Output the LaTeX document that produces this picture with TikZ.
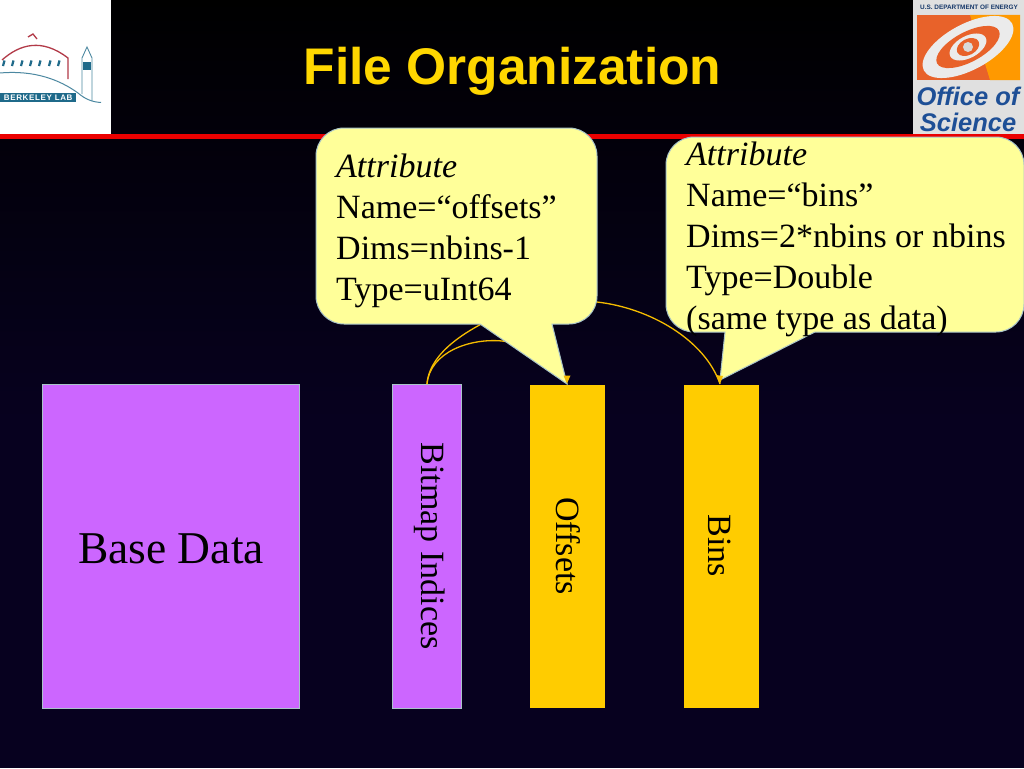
\documentclass[tikz,border=0pt]{standalone}
\usepackage{fontspec}
\setmainfont{Liberation Serif}
\newfontfamily\arialfont{Liberation Sans}
\definecolor{bgtop}{HTML}{000000}
\definecolor{bgbot}{HTML}{07011F}
\definecolor{violet}{HTML}{CC66FF}
\definecolor{gold}{HTML}{FFCC00}
\definecolor{cream}{HTML}{FFFF99}
\definecolor{edgeblue}{HTML}{A9C4C8}
\definecolor{linkgold}{HTML}{F5BC00}
\definecolor{labteal}{HTML}{1F6A8A}
\definecolor{labred}{HTML}{B23A48}
\definecolor{doeblue}{HTML}{1E4F96}
\definecolor{doeorange}{HTML}{E8622A}
\tikzset{
  databox/.style={draw=none,minimum height=324pt,inner sep=0pt,anchor=north west},
  balloon/.style={fill=cream,draw=edgeblue,line width=1pt},
  balloontext/.style={anchor=north west,inner sep=0pt,align=left,text=black,font=\fontsize{34}{41}\selectfont},
  boxlabel/.style={rotate=-90,inner sep=0pt,text=black},
  link/.style={draw=linkgold,line width=1.3pt},
}
\begin{document}
\begin{tikzpicture}[x=1pt,y=-1pt]
\useasboundingbox (0,0) rectangle (1024,768);
\fill[bgbot] (0,0) rectangle (1024,768);
\shade[top color=bgtop,bottom color=bgbot] (0,0) rectangle (1024,420);
% logos
\fill[white] (0,0) rectangle (111,135);
\fill[black!12] (913,0) rectangle (1024,135);
\fill[red!92!black] (0,134) rectangle (1024,138.5);
% Berkeley Lab logo
\draw[labred,line width=1.3pt] (2,60) .. controls (20,44) and (42,38) .. (68,58) -- (68,79);
\draw[labred,line width=1.3pt] (28,37) -- (33,34) -- (37,39);
\foreach \lx in {3,12,21,30,39,49,58}
  \draw[labteal,line width=2.2pt] (\lx,66) -- (\lx+1.5,60.5);
\draw[labteal!80,line width=1pt] (0,73) .. controls (35,70) and (60,80) .. (78,93) .. controls (85,99) and (92,102) .. (101,102.5);
\draw[labteal!80,line width=.9pt] (82,94) -- (82,58) -- (87,47) -- (92,58) -- (92,101);
\fill[labteal] (83,62) rectangle (91,70);
\node[fill=labteal,text=white,inner sep=0pt,minimum width=76pt,minimum height=9pt,anchor=north west,font=\arialfont\bfseries\fontsize{8}{8}\selectfont] (lab) at (0,93) {\addfontfeature{LetterSpace=8}BERKELEY LAB};
% Office of Science logo
\node[inner sep=0pt,text=doeblue!70!black,font=\arialfont\bfseries\fontsize{6.4}{7}\selectfont] (doe) at (969,7) {U.S. DEPARTMENT OF ENERGY};
\fill[doeorange] (917,15) rectangle (1020,80);
\fill[orange!80!yellow] (970,15) -- (1020,15) -- (1020,80) -- (990,80) -- cycle;
\fill[black!8,rotate around={28:(968,47)}] (968,47) ellipse (50 and 23);
\fill[doeorange,rotate around={28:(968,47)}] (968,47) ellipse (35 and 15);
\fill[black!8,rotate around={28:(968,47)}] (968,47) ellipse (20 and 11);
\fill[doeorange,rotate around={28:(968,47)}] (968,47) ellipse (12 and 8);
\fill[black!15] (968,47) circle (5);
\node[inner sep=0pt,text=doeblue,font=\arialfont\bfseries\itshape\fontsize{25.5}{26}\selectfont] (office) at (968,96) {Office of};
\node[inner sep=0pt,text=doeblue,font=\arialfont\bfseries\itshape\fontsize{25.5}{26}\selectfont] (science) at (968,122) {Science};
% title
\node[inner sep=0pt,text={rgb,255:red,255;green,215;blue,0},font=\arialfont\bfseries\fontsize{51.5}{56}\selectfont] (title) at (512.5,71) {File Organization};
% data boxes
\node[databox,fill=violet,minimum width=257pt] (base) at (42,384) {};
\node[databox,fill=violet,minimum width=69pt] (bitmap) at (392,384) {};
\node[databox,fill=gold,minimum width=75pt,minimum height=323pt] (offsets) at (530,385) {};
\node[databox,fill=gold,minimum width=75pt,minimum height=323pt] (bins) at (684,385) {};
\draw[edgeblue,line width=.5pt] (base.north west) rectangle (base.south east);
\draw[edgeblue,line width=.5pt] (bitmap.north west) rectangle (bitmap.south east);
\node[inner sep=0pt,text=black,font=\fontsize{45.5}{50}\selectfont] (baselabel) at (171,549) {Base Data};
\node[boxlabel,font=\fontsize{34}{40}\selectfont] (bitmaplabel) at (430,546) {Bitmap Indices};
\node[boxlabel,font=\fontsize{34}{40}\selectfont] (offsetslabel) at (568.5,546) {Offsets};
\node[boxlabel,font=\fontsize{34}{40}\selectfont] (binslabel) at (720,546) {Bins};
% connectors behind balloons
\coordinate (bitmaptop) at (427,384);
\coordinate (offsetstop) at (567,384);
\coordinate (binstop) at (720,384);
\coordinate (leftballoon) at (500,315);
\coordinate (rightstart) at (590,302);
\draw[link] (bitmaptop) .. controls (429,358) and (455,335) .. (leftballoon);
\draw[link] (bitmaptop) .. controls (430,352) and (470,338) .. (502,341) .. controls (530,344) and (560,360) .. (offsetstop);
% balloons
\draw[balloon] (344,128) -- (569,128) arc[start angle=-90,end angle=0,radius=28]
  -- (597,296) arc[start angle=0,end angle=90,radius=28]
  -- (552,324) -- (567,384) -- (480,324) -- (344,324)
  arc[start angle=90,end angle=180,radius=28] -- (316,156)
  arc[start angle=180,end angle=270,radius=28] -- cycle;
\draw[balloon] (694,137) -- (996,137) arc[start angle=-90,end angle=0,radius=28]
  -- (1024,304) arc[start angle=0,end angle=90,radius=28]
  -- (815,332) -- (720,380) -- (725,332) -- (694,332)
  arc[start angle=90,end angle=180,radius=28] -- (666,165)
  arc[start angle=180,end angle=270,radius=28] -- cycle;
\draw[link] (rightstart) ++(7,0) .. controls (650,308) and (705,340) .. (binstop);
\fill[linkgold] (offsetstop) ++(0,-.5) -- ++(-3.5,-8) -- ++(7,0) -- cycle;
\fill[linkgold] (binstop) -- ++(-4,-9) -- ++(7,1) -- cycle;
\node[balloontext] (text1) at (336,154) {\textit{Attribute}\\Name=“offsets”\\Dims=nbins-1\\Type=uInt64};
\node[balloontext] (text2) at (686,142) {\textit{Attribute}\\Name=“bins”\\Dims=2*nbins or nbins\\Type=Double\\(same type as data)};
\end{tikzpicture}
\end{document}
